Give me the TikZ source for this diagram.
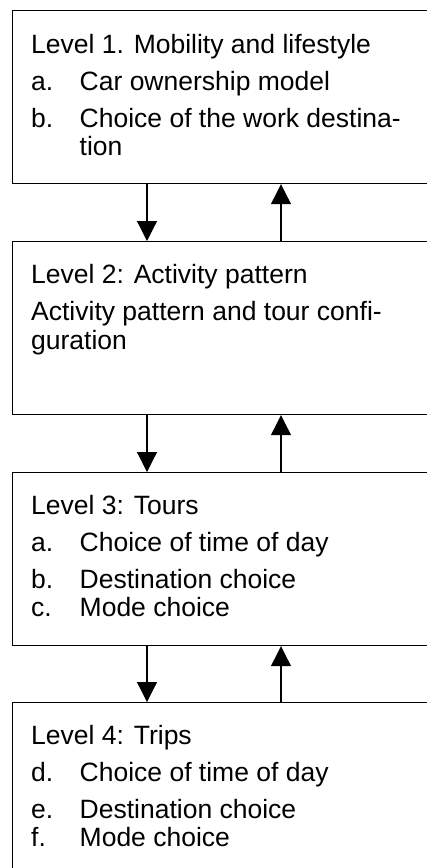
\documentclass[tikz,border=0pt]{standalone}
\usepackage{fontspec}
\setmainfont{Liberation Sans}
\usetikzlibrary{arrows.meta,calc}

\tikzset{
  box/.style={draw, line width=1.2pt, minimum width=432pt, minimum height=173pt, anchor=north west, inner sep=0pt},
  txt/.style={anchor=base west, inner sep=0pt, font=\fontsize{26.5}{28}\selectfont},
  arr/.style={line width=1.2pt, -{Triangle[width=20pt,length=20pt]}}
}
\newcommand{\itm}[2]{\makebox[48.5pt][l]{#1}#2}

\begin{document}
\begin{tikzpicture}[x=1pt,y=-1pt]
\useasboundingbox (0,0) rectangle (427,868);
\clip (0,0) rectangle (427,868);
% the four levels
\foreach \n/\y in {1/10,2/241,3/472,4/702}
    \node[box] (lev\n) at (12,\y) {};
% texts
\foreach \i/\dy/\t in {a/43/{Level 1. Mobility and lifestyle},
                       b/80/{\itm{a.}{Car ownership model}},
                       c/117/{\itm{b.}{Choice of the work destina-}},
                       d/145/{\itm{}{tion}}}
    \node[txt] (one\i) at ($(lev1.north west)+(19,\dy)$) {\t};
\foreach \i/\dy/\t in {a/42/{Level 2: Activity pattern},
                       b/79/{Activity pattern and tour confi-},
                       c/108/{guration}}
    \node[txt] (two\i) at ($(lev2.north west)+(19,\dy)$) {\t};
\foreach \i/\dy/\t in {a/42/{Level 3: Tours},
                       b/79/{\itm{a.}{Choice of time of day}},
                       c/116/{\itm{b.}{Destination choice}},
                       d/144/{\itm{c.}{Mode choice}}}
    \node[txt] (three\i) at ($(lev3.north west)+(19,\dy)$) {\t};
\foreach \i/\dy/\t in {a/42/{Level 4: Trips},
                       b/79/{\itm{d.}{Choice of time of day}},
                       c/116/{\itm{e.}{Destination choice}},
                       d/144/{\itm{f.}{Mode choice}}}
    \node[txt] (four\i) at ($(lev4.north west)+(19,\dy)$) {\t};
% arrows down and up between levels
\foreach \a/\b in {lev1/lev2, lev2/lev3, lev3/lev4}
{
    \draw[arr] ([xshift=135pt]\a.south west) -- ([xshift=135pt]\b.north west);
    \draw[arr] ([xshift=269pt]\b.north west) -- ([xshift=269pt]\a.south west);
}
\end{tikzpicture}
\end{document}
